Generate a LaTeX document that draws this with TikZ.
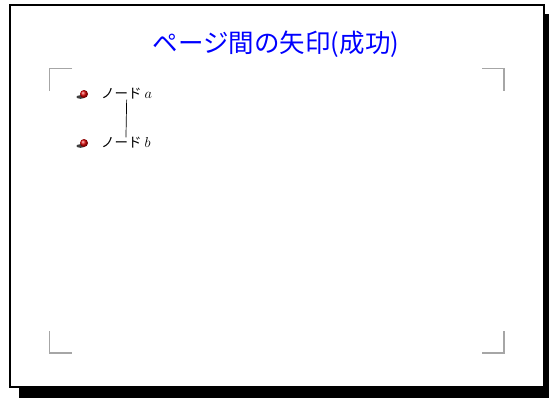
\documentclass[tikz,border=0pt]{standalone}
\usepackage{fontspec}
\newfontfamily\jpfont{Noto Sans CJK JP}
\begin{document}
\begin{tikzpicture}[x=1pt,y=-1pt,
  titlestyle/.style={font=\jpfont\fontsize{25.5}{28}\selectfont, text=blue, inner sep=0pt},
  itemstyle/.style={font=\jpfont\fontsize{13.5}{15}\selectfont, inner xsep=0pt, inner ysep=0pt, anchor=west},
  cornermark/.style={draw=black!35, line width=1.2pt},
  bulletball/.style={ball color=red!85!black},
  bulletshadow/.style={fill=black!75}
]
\useasboundingbox (0,0) rectangle (549,397);
% shadow and frame
\fill[black] (19,14) rectangle (556,398);
\draw[line width=2pt, fill=white] (10,5) rectangle (544,387);
% corner marks
\draw[cornermark] (72,68.5) -- (49.5,68.5) -- (49.5,91);
\draw[cornermark] (482,68.5) -- (504,68.5) -- (504,91);
\draw[cornermark] (49.5,331) -- (49.5,353) -- (72,353);
\draw[cornermark] (504,331) -- (504,353) -- (482,353);
% title
\node[titlestyle] (title) at (276,44) {ページ間の矢印(成功)};
% items
\fill[bulletshadow] (80.5,97) ellipse (4.2 and 1.8);
\shade[bulletball] (84,94) circle (4);
\node[itemstyle] (a) at (101,94) {ノード $a$};
\fill[bulletshadow] (80.5,146) ellipse (4.2 and 1.8);
\shade[bulletball] (84,143) circle (4);
\node[itemstyle] (b) at (101,143) {ノード $b$};
\draw[line width=0.7pt] (a.south) -- (b.north);
\end{tikzpicture}
\end{document}
